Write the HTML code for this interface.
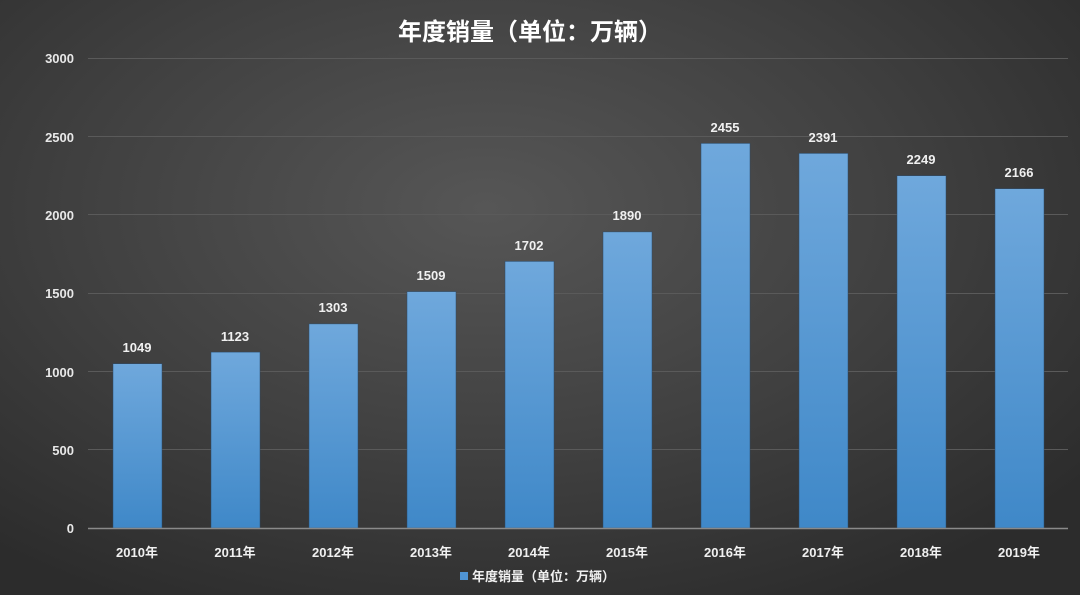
<!DOCTYPE html>
<html><head><meta charset="utf-8"><style>
html,body{margin:0;padding:0;width:1080px;height:595px;overflow:hidden}
body{background:radial-gradient(ellipse 70% 75% at 45% 35%,#565656 0%,#404040 55%,#2c2c2c 100%)}
text{font-family:"Liberation Sans","Noto Sans CJK SC",sans-serif}
</style></head><body>
<svg width="1080" height="595" xmlns="http://www.w3.org/2000/svg">
<defs><linearGradient id="g" x1="0" y1="0" x2="0" y2="1"><stop offset="0" stop-color="#6fa8dc"/><stop offset="1" stop-color="#3f88c8"/></linearGradient></defs>
<text x="530" y="40" fill="#fff" font-size="24" font-weight="bold" text-anchor="middle" style="font-family:'Noto Sans CJK SC',sans-serif">年度销量（单位：万辆）</text>
<g stroke="#5a5a5a" stroke-width="1">
<line x1="88" x2="1068" y1="58.5" y2="58.5"/><line x1="88" x2="1068" y1="136.5" y2="136.5"/><line x1="88" x2="1068" y1="214.5" y2="214.5"/><line x1="88" x2="1068" y1="293.5" y2="293.5"/><line x1="88" x2="1068" y1="371.5" y2="371.5"/><line x1="88" x2="1068" y1="449.5" y2="449.5"/>
</g>
<g fill="#e8e8e8" font-size="13" font-weight="bold" text-anchor="end">
<text x="74" y="533">0</text><text x="74" y="455">500</text><text x="74" y="377">1000</text><text x="74" y="298">1500</text><text x="74" y="220">2000</text><text x="74" y="142">2500</text><text x="74" y="63">3000</text>
</g>
<g fill="url(#g)" stroke="#2a4a6a" stroke-width="0.5">
<rect x="113" y="363.7" width="49" height="164.3"/>
<rect x="211" y="352.1" width="49" height="175.9"/>
<rect x="309" y="323.9" width="49" height="204.1"/>
<rect x="407" y="291.6" width="49" height="236.4"/>
<rect x="505" y="261.4" width="49" height="266.6"/>
<rect x="603" y="231.9" width="49" height="296.1"/>
<rect x="701" y="143.4" width="49" height="384.6"/>
<rect x="799" y="153.4" width="49" height="374.6"/>
<rect x="897" y="175.7" width="49" height="352.3"/>
<rect x="995" y="188.7" width="49" height="339.3"/>
</g>
<line x1="88" x2="1068" y1="528.5" y2="528.5" stroke="#8a8a8a" stroke-width="1.5"/>
<g fill="#f0f0f0" font-size="13" font-weight="bold" text-anchor="middle">
<text x="137" y="352">1049</text><text x="235" y="341">1123</text><text x="333" y="312">1303</text><text x="431" y="280">1509</text><text x="529" y="250">1702</text><text x="627" y="220">1890</text><text x="725" y="132">2455</text><text x="823" y="142">2391</text><text x="921" y="164">2249</text><text x="1019" y="177">2166</text>
</g>
<g fill="#f0f0f0" font-size="13" font-weight="bold" text-anchor="middle">
<text x="137" y="557">2010年</text><text x="235" y="557">2011年</text><text x="333" y="557">2012年</text><text x="431" y="557">2013年</text><text x="529" y="557">2014年</text><text x="627" y="557">2015年</text><text x="725" y="557">2016年</text><text x="823" y="557">2017年</text><text x="921" y="557">2018年</text><text x="1019" y="557">2019年</text>
</g>
<rect x="460" y="572" width="8" height="8" fill="#4f94d4"/>
<text x="472" y="581" fill="#f0f0f0" font-size="13" font-weight="bold">年度销量（单位：万辆）</text>
</svg>
</body></html>
